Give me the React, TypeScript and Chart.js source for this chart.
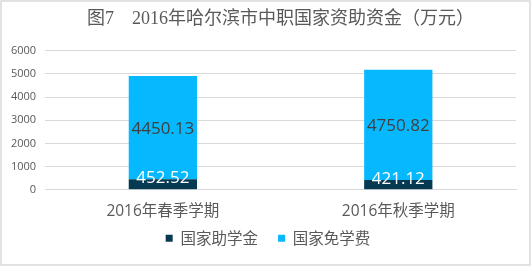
import React, { useEffect, useRef } from "react";
import { Chart, registerables } from "chart.js";

Chart.register(...registerables);

const categories = ["2016年春季学期", "2016年秋季学期"];
const grantValues = [452.52, 421.12];
const exemptionValues = [4450.13, 4750.82];
const seriesNames = ["国家助学金", "国家免学费"];
const titleText = "图7　2016年哈尔滨市中职国家资助资金（万元）";

const labelPlugin = {
  id: "barLabels",
  afterDatasetsDraw(chart: any) {
    const ctx = chart.ctx;
    chart.data.datasets.forEach((ds: any, i: number) => {
      const meta = chart.getDatasetMeta(i);
      meta.data.forEach((el: any, j: number) => {
        const v = ds.data[j];
        const cy = (el.y + el.base) / 2;
        ctx.save();
        ctx.font = "17px 'Open Sans', sans-serif";
        ctx.textAlign = "center";
        ctx.textBaseline = "middle";
        ctx.fillStyle = i === 0 ? "#ffffff" : "#404040";
        ctx.fillText(v.toFixed(2), el.x, i === 0 ? cy - 6 : cy + 1);
        ctx.restore();
      });
    });
  },
};

const legendShiftPlugin = {
  id: "legendShift",
  afterLayout(chart: any) {
    if (chart.legend) {
      chart.legend.left += 9;
      chart.legend.right += 9;
    }
  },
};

const borderPlugin = {
  id: "outerBorder",
  afterDraw(chart: any) {
    const ctx = chart.ctx;
    ctx.save();
    ctx.strokeStyle = "#d9d9d9";
    ctx.lineWidth = 1.5;
    ctx.strokeRect(1, 1, chart.width - 2, chart.height - 2);
    ctx.restore();
  },
};

export default function App() {
  const ref = useRef<HTMLCanvasElement>(null);
  useEffect(() => {
    document.body.style.margin = "0";
    const chart = new Chart(ref.current!, {
      type: "bar",
      data: {
        labels: categories,
        datasets: [
          {
            label: seriesNames[0],
            data: grantValues,
            backgroundColor: "#063a52",
            barPercentage: 0.58,
            categoryPercentage: 0.5,
          },
          {
            label: seriesNames[1],
            data: exemptionValues,
            backgroundColor: "#06b9ff",
            barPercentage: 0.58,
            categoryPercentage: 0.5,
          },
        ],
      },
      options: {
        animation: false,
        responsive: false,
        layout: { padding: { left: 2, right: 15, top: 0, bottom: 10 } },
        plugins: {
          title: {
            display: true,
            fullSize: false,
            text: titleText,
            color: "#595959",
            font: { size: 18, family: "'Liberation Serif', 'Noto Sans CJK SC', serif", weight: "normal" },
            padding: { top: 8, bottom: 21 },
          },
          legend: {
            position: "bottom",
            labels: {
              boxWidth: 7,
              boxHeight: 7,
              color: "#595959",
              font: { size: 15.5, family: "'Noto Sans CJK SC', sans-serif" },
              padding: 4.65,
              generateLabels: (chart: any) => {
                const items = Chart.defaults.plugins.legend.labels.generateLabels(chart);
                return items.map((it: any, i: number) =>
                  i < items.length - 1 ? { ...it, text: it.text + "\u2003" } : it
                );
              },
            },
          },
          tooltip: { enabled: false },
        },
        scales: {
          x: {
            stacked: true,
            grid: { display: false },
            border: { color: "#d9d9d9" },
            ticks: { color: "#595959", padding: 4.7, font: { size: 15.5, family: "'Open Sans', 'Noto Sans CJK SC', sans-serif" } },
          },
          y: {
            stacked: true,
            min: 0,
            max: 6000,
            ticks: {
              stepSize: 1000,
              color: "#595959",
              font: { size: 11, family: "'Open Sans', sans-serif" },
              padding: 9,
              callback: (v: any) => String(v),
            },
            grid: { color: "#d9d9d9", drawTicks: false },
            border: { display: false },
          },
        },
      },
      plugins: [labelPlugin, legendShiftPlugin, borderPlugin],
    });
    return () => chart.destroy();
  }, []);
  return <canvas ref={ref} width={531} height={266} style={{ display: "block" }} />;
}
